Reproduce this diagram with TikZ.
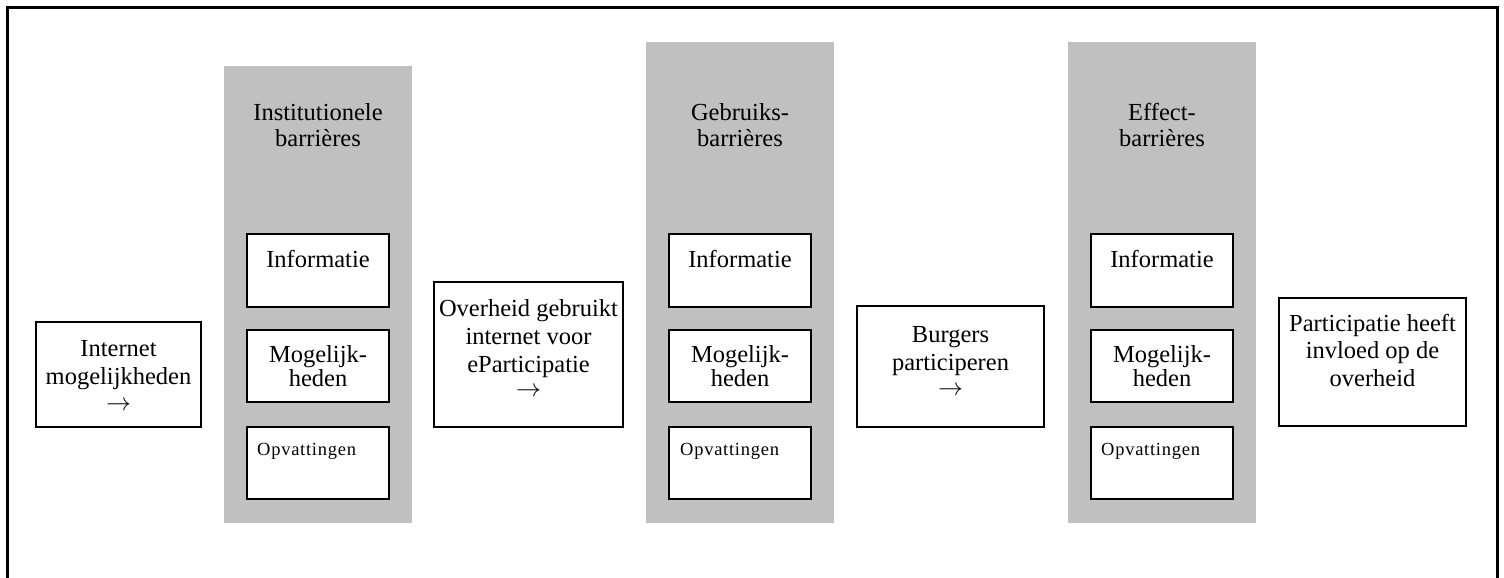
\documentclass[tikz,border=0pt]{standalone}
\usepackage{fontspec}
\setmainfont{Liberation Serif}
\newfontfamily\opvfont[LetterSpace=4]{Liberation Serif}
\definecolor{barcolor}{HTML}{C0C0C0}
\newcommand{\rarr}{{\fontsize{25}{28}\selectfont\smash{$\rightarrow$}}}
\begin{document}
\begin{tikzpicture}[x=1pt,y=-1pt,
  frame/.style={draw=black, line width=3pt},
  column/.style={fill=barcolor, draw=none, inner sep=0pt, outer sep=0pt},
  box/.style={draw=black, line width=1.9pt, fill=white, inner sep=0pt, outer sep=0pt},
  subbox/.style={box, minimum width=142pt},
  txt/.style={anchor=base, inner sep=0pt, font=\fontsize{24.5}{28}\selectfont},
  opv/.style={anchor=base west, inner sep=0pt, font=\opvfont\fontsize{18.5}{22}\selectfont}]
\useasboundingbox (0,0) rectangle (1504,578);
\fill[white] (0,0) rectangle (1504,578);
% outer frame (open at the bottom)
\coordinate (fbl) at (7,582);
\coordinate (ftl) at (7,8);
\coordinate (ftr) at (1497,8);
\coordinate (fbr) at (1497,582);
\draw[frame] (fbl) -- (ftl) -- (ftr) -- (fbr);

% gray columns
\node[column, minimum width=188pt, minimum height=457pt] (col1) at (318,294.5) {};
\node[column, minimum width=188pt, minimum height=481pt] (col2) at (740,282.5) {};
\node[column, minimum width=188pt, minimum height=481pt] (col3) at (1162,282.5) {};

% column titles
\node[txt] (c1ta) at (318,120) {Institutionele};
\node[txt] (c1tb) at (318,146) {barrières};
\node[txt] (c2ta) at (740,120) {Gebruiks-};
\node[txt] (c2tb) at (740,146) {barrières};
\node[txt] (c3ta) at (1162,120) {Effect-};
\node[txt] (c3tb) at (1162,146) {barrières};

% sub boxes column 1
\node[subbox, minimum height=73pt] (i1) at (318,270.5) {};
\node[subbox, minimum height=72pt] (m1) at (318,366) {};
\node[subbox, minimum height=72pt] (o1) at (318,463) {};
% sub boxes column 2
\node[subbox, minimum height=73pt] (i2) at (740,270.5) {};
\node[subbox, minimum height=72pt] (m2) at (740,366) {};
\node[subbox, minimum height=72pt] (o2) at (740,463) {};
% sub boxes column 3
\node[subbox, minimum height=73pt] (i3) at (1162,270.5) {};
\node[subbox, minimum height=72pt] (m3) at (1162,366) {};
\node[subbox, minimum height=72pt] (o3) at (1162,463) {};

% sub box texts
\node[txt] (i1t) at (318,267) {Informatie};
\node[txt] (m1ta) at (318,362) {Mogelijk-};
\node[txt] (m1tb) at (318,386) {heden};
\node[opv] (o1t) at (257,455) {Opvattingen};

\node[txt] (i2t) at (740,267) {Informatie};
\node[txt] (m2ta) at (740,362) {Mogelijk-};
\node[txt] (m2tb) at (740,386) {heden};
\node[opv] (o2t) at (680,455) {Opvattingen};

\node[txt] (i3t) at (1162,267) {Informatie};
\node[txt] (m3ta) at (1162,362) {Mogelijk-};
\node[txt] (m3tb) at (1162,386) {heden};
\node[opv] (o3t) at (1101,455) {Opvattingen};

% step boxes
\node[box, minimum width=165pt, minimum height=105pt] (inet) at (118.5,374.5) {};
\node[txt] (inet1) at (118.5,356) {Internet};
\node[txt] (inet2) at (118.5,384) {mogelijkheden};
\node[txt] (inet3) at (118.5,410) {\rarr};

\node[box, minimum width=189pt, minimum height=145pt] (over) at (528.5,354.5) {};
\node[txt] (over1) at (528.5,316) {Overheid gebruikt};
\node[txt] (over2) at (528.5,344) {internet voor};
\node[txt] (over3) at (528.5,372) {eParticipatie};
\node[txt] (over4) at (528.5,396) {\rarr};

\node[box, minimum width=187pt, minimum height=121pt] (burg) at (950.5,366.5) {};
\node[txt] (burg1) at (950.5,342) {Burgers};
\node[txt] (burg2) at (950.5,370) {participeren};
\node[txt] (burg3) at (950.5,395) {\rarr};

\node[box, minimum width=187pt, minimum height=128pt] (part) at (1372.5,362) {};
\node[txt] (part1) at (1372.5,331) {Participatie heeft};
\node[txt] (part2) at (1372.5,358) {invloed op de};
\node[txt] (part3) at (1372.5,386) {overheid};
\end{tikzpicture}
\end{document}
